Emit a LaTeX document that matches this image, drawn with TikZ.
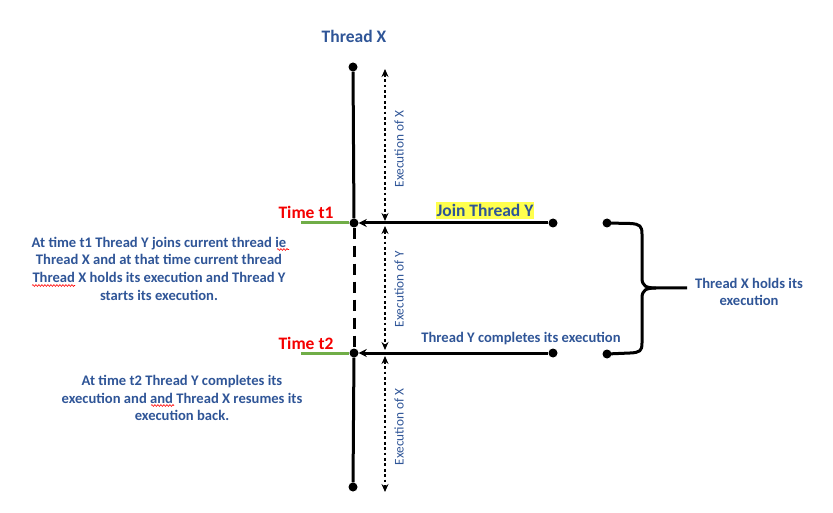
\documentclass[tikz,border=0pt]{standalone}
\usepackage{fontspec}
\setmainfont{Carlito}
\usetikzlibrary{arrows.meta,decorations.pathmorphing}
\definecolor{tblue}{HTML}{2F5597}
\definecolor{tred}{HTML}{F40000}
\definecolor{tgreen}{HTML}{70AD47}
\definecolor{hlyellow}{HTML}{FFFF4D}
\begin{document}
\begin{tikzpicture}[x=1pt,y=-1pt,
  dotnode/.style={circle,fill=black,inner sep=0pt,minimum size=9pt},
  bigtxt/.style={font=\fontsize{17.5}{21}\selectfont\bfseries,inner sep=1pt},
  bodytxt/.style={font=\fontsize{14.6}{17.7}\selectfont\bfseries,text=tblue,align=center,inner sep=0pt},
  exectxt/.style={font=\fontsize{13.3}{16}\selectfont,text=tblue,rotate=90,inner sep=0pt},
  mainline/.style={line width=3pt},
  dashline/.style={line width=3pt,dash pattern=on 11pt off 7pt},
  execarrow/.style={line width=2.8pt,dash pattern=on 2.8pt off 2.6pt,{Stealth[length=8pt,width=7pt]}-{Stealth[length=8pt,width=7pt]}},
  joinline/.style={line width=3pt,-{Stealth[length=8pt,width=8pt]}},
  greenline/.style={line width=3pt,tgreen},
  spellwave/.style={red,line width=0.6pt,decorate,decoration={snake,amplitude=0.9pt,segment length=3pt}},
]
\useasboundingbox (0,0) rectangle (833,513);

% nodes
\node[bigtxt,text=tblue] (title) at (354,36) {Thread X};
\node[dotnode] (xtop) at (353,67) {};
\node[dotnode] (xbot) at (353,487) {};
\node[dotnode] (t1) at (354,223) {};
\node[dotnode] (t2) at (354,353) {};
\node[dotnode] (y1) at (553,223) {};
\node[dotnode] (y2) at (553,353) {};
\node[dotnode] (b1) at (607,223) {};
\node[dotnode] (b2) at (607,354) {};
\coordinate (g1) at (301,223);
\coordinate (g2) at (301,353);

% main thread line
\draw[mainline] (xtop) -- (t1);
\draw[dashline] (t1) -- (t2);
\draw[mainline] (t2) -- (xbot);

% green time marks
\draw[greenline] (g1) -- (t1.west);
\draw[greenline] (g2) -- (t2.west);

% join lines
\draw[joinline] (y1) -- (t1);
\draw[joinline] (y2) -- (t2);

% execution arrows
\coordinate (e1a) at (385,69);
\coordinate (e1b) at (385,221);
\coordinate (e2a) at (385,226);
\coordinate (e2b) at (385,350);
\coordinate (e3a) at (385,356);
\coordinate (e3b) at (385,492);
\draw[execarrow] (e1a) -- (e1b);
\draw[execarrow] (e2a) -- (e2b);
\draw[execarrow] (e3a) -- (e3b);
\node[exectxt] (ex1) at (399,149) {Execution of X};
\node[exectxt] (ey) at (399,289) {Execution of Y};
\node[exectxt] (ex2) at (399,427) {Execution of X};

% labels
\node[bigtxt,text=tblue,fill=hlyellow,inner xsep=1pt,inner ysep=2pt] (join) at (485,210.5) {Join Thread Y};
\node[bigtxt,text=tred] (time1) at (306,212) {Time t1};
\node[bigtxt,text=tred] (time2) at (306,343) {Time t2};
\node[bodytxt] (comp) at (521,339) {Thread Y completes its execution};

\node[bodytxt] (desc1) at (159,268.5) {At time t1 Thread Y joins current thread ie\\
Thread X and at that time current thread\\
Thread X holds its execution and Thread Y\\
starts its execution.};
\node[bodytxt] (desc2) at (182,398) {At time t2 Thread Y completes its\\
execution and and Thread X resumes its\\
execution back.};

\node[bodytxt] (hold) at (749,292) {Thread X holds its\\execution};

% spell-check underlines
\draw[spellwave] (277,249.5) -- (289,249.5);
\draw[spellwave] (32,285.5) -- (75,285.5);
\draw[spellwave] (151,405.5) -- (174,405.5);

% brace
\draw[line width=3pt,line join=round]
  (b1.center) -- (630,223.5) .. controls (640,224) and (642,226) .. (642,234)
  -- (642,278) .. controls (642,286) and (646,288) .. (656,288) -- (687,288);
\draw[line width=3pt,line join=round]
  (656,288) .. controls (646,288) and (642,290) .. (642,298)
  -- (642,343) .. controls (642,351) and (640,352.5) .. (630,353) -- (b2.center);
\end{tikzpicture}
\end{document}
